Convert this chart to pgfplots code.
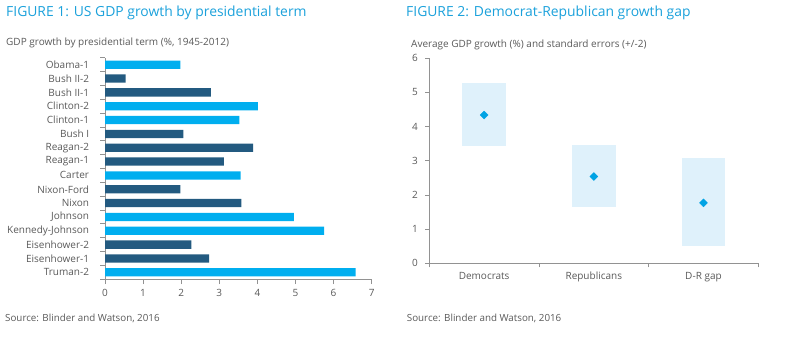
\documentclass[border=0pt]{standalone}
\usepackage{fontspec}
\setmainfont{Open Sans}
\usepackage{pgfplots}
\pgfplotsset{compat=1.18}
\definecolor{dem}{HTML}{00AEEF}
\definecolor{rep}{HTML}{235A80}
\definecolor{ttl}{HTML}{1BA1DB}
\definecolor{txt}{HTML}{595959}
\definecolor{axc}{HTML}{929292}
\definecolor{boxc}{HTML}{DFF1FB}
\definecolor{dia}{HTML}{00A3E4}
\begin{document}
\begin{tikzpicture}
\path[use as bounding box] (0pt,0pt) rectangle (800pt,355pt);
% titles
\node[anchor=base west, text=ttl, font=\fontsize{13.9}{16}\selectfont, inner sep=0] at (6pt,338.3pt) {FIGURE 1: US GDP growth by presidential term};
\node[anchor=base west, text=ttl, font=\fontsize{13.9}{16}\selectfont, inner sep=0] at (406pt,338.3pt) {FIGURE 2: Democrat-Republican growth gap};
\node[anchor=base west, text=txt, font=\fontsize{10}{12}\selectfont, inner sep=0] at (6pt,309.3pt) {GDP growth by presidential term (\%, 1945-2012)};
\node[anchor=base west, text=txt, font=\fontsize{10}{12}\selectfont, inner sep=0] at (411pt,307.7pt) {Average GDP growth (\%) and standard errors (+/-2)};
\node[anchor=base west, text=txt, font=\fontsize{9.8}{12}\selectfont, inner sep=0] at (5pt,33.3pt) {Source: Blinder and Watson, 2016};
\node[anchor=base west, text=txt, font=\fontsize{9.8}{12}\selectfont, inner sep=0] at (406.7pt,33.3pt) {Source: Blinder and Watson, 2016};

% Figure 1
\begin{axis}[
  at={(105pt,75.8pt)}, anchor=south west, scale only axis,
  width=266.7pt, height=221.4pt,
  xmin=0, xmax=7, ymin=-0.5, ymax=15.5,
  enlargelimits=false,
  axis x line*=bottom, axis y line*=left,
  axis line style={-, draw=axc, line width=0.8pt},
  tick style={draw=axc, line width=0.8pt},
  tick align=outside, major tick length=5pt,
  xtick={0,...,7},
  ytick={-0.5,0.5,...,15.5}, yticklabels={},
  extra y ticks={0,...,15},
  extra y tick labels={Truman-2,Eisenhower-1,Eisenhower-2,Kennedy-Johnson,Johnson,Nixon,Nixon-Ford,Carter,Reagan-1,Reagan-2,Bush I,Clinton-1,Clinton-2,Bush II-1,Bush II-2,Obama-1},
  extra y tick style={tick style={draw=none}, yticklabel style={xshift=-7.4pt}},
  /pgf/number format/assume math mode=true,
  tick label style={font=\fontsize{10}{12}\selectfont, text=txt},
  xticklabel style={yshift=-2pt},
]
\addplot[xbar, bar width=8.3pt, bar shift=0pt, fill=dem, draw=none] coordinates {
  (6.58,0) (5.75,3) (4.96,4) (3.56,7) (3.53,11) (4.01,12) (1.98,15)};
\addplot[xbar, bar width=8.3pt, bar shift=0pt, fill=rep, draw=none] coordinates {
  (2.73,1) (2.27,2) (3.58,5) (1.98,6) (3.12,8) (3.89,9) (2.06,10) (2.78,13) (0.54,14)};
\end{axis}

% Figure 2
\begin{axis}[
  at={(429.3pt,91.7pt)}, anchor=south west, scale only axis,
  width=329pt, height=205pt,
  xmin=0, xmax=3, ymin=0, ymax=6,
  enlargelimits=false,
  axis x line*=bottom, axis y line*=left,
  axis line style={-, draw=axc, line width=0.8pt},
  tick style={draw=axc, line width=0.8pt},
  tick align=outside, major tick length=4pt,
  ytick={0,...,6},
  xtick={0,1,2,3}, xticklabels={},
  extra x ticks={0.5,1.5,2.5},
  extra x tick labels={Democrats,Republicans,D-R gap},
  extra x tick style={tick style={draw=none}, xticklabel style={yshift=-1.5pt}},
  /pgf/number format/assume math mode=true,
  tick label style={font=\fontsize{10}{12}\selectfont, text=txt},
  yticklabel style={xshift=-4pt},
]
\addplot[draw=none, mark=none,
  error bars/.cd, y dir=both, y explicit, error mark=none,
  error bar style={line width=43.5pt, draw=boxc}]
  coordinates {
  (0.5,4.34) += (0,0.93) -= (0,0.90)
  (1.5,2.54) += (0,0.92) -= (0,0.88)
  (2.5,1.77) += (0,1.30) -= (0,1.25)};
\addplot[only marks, mark=square*, mark size=2.8pt, mark options={rotate=45, fill=dia, draw=dia}]
  coordinates {(0.5,4.34) (1.5,2.54) (2.5,1.77)};
\end{axis}
\end{tikzpicture}
\end{document}
